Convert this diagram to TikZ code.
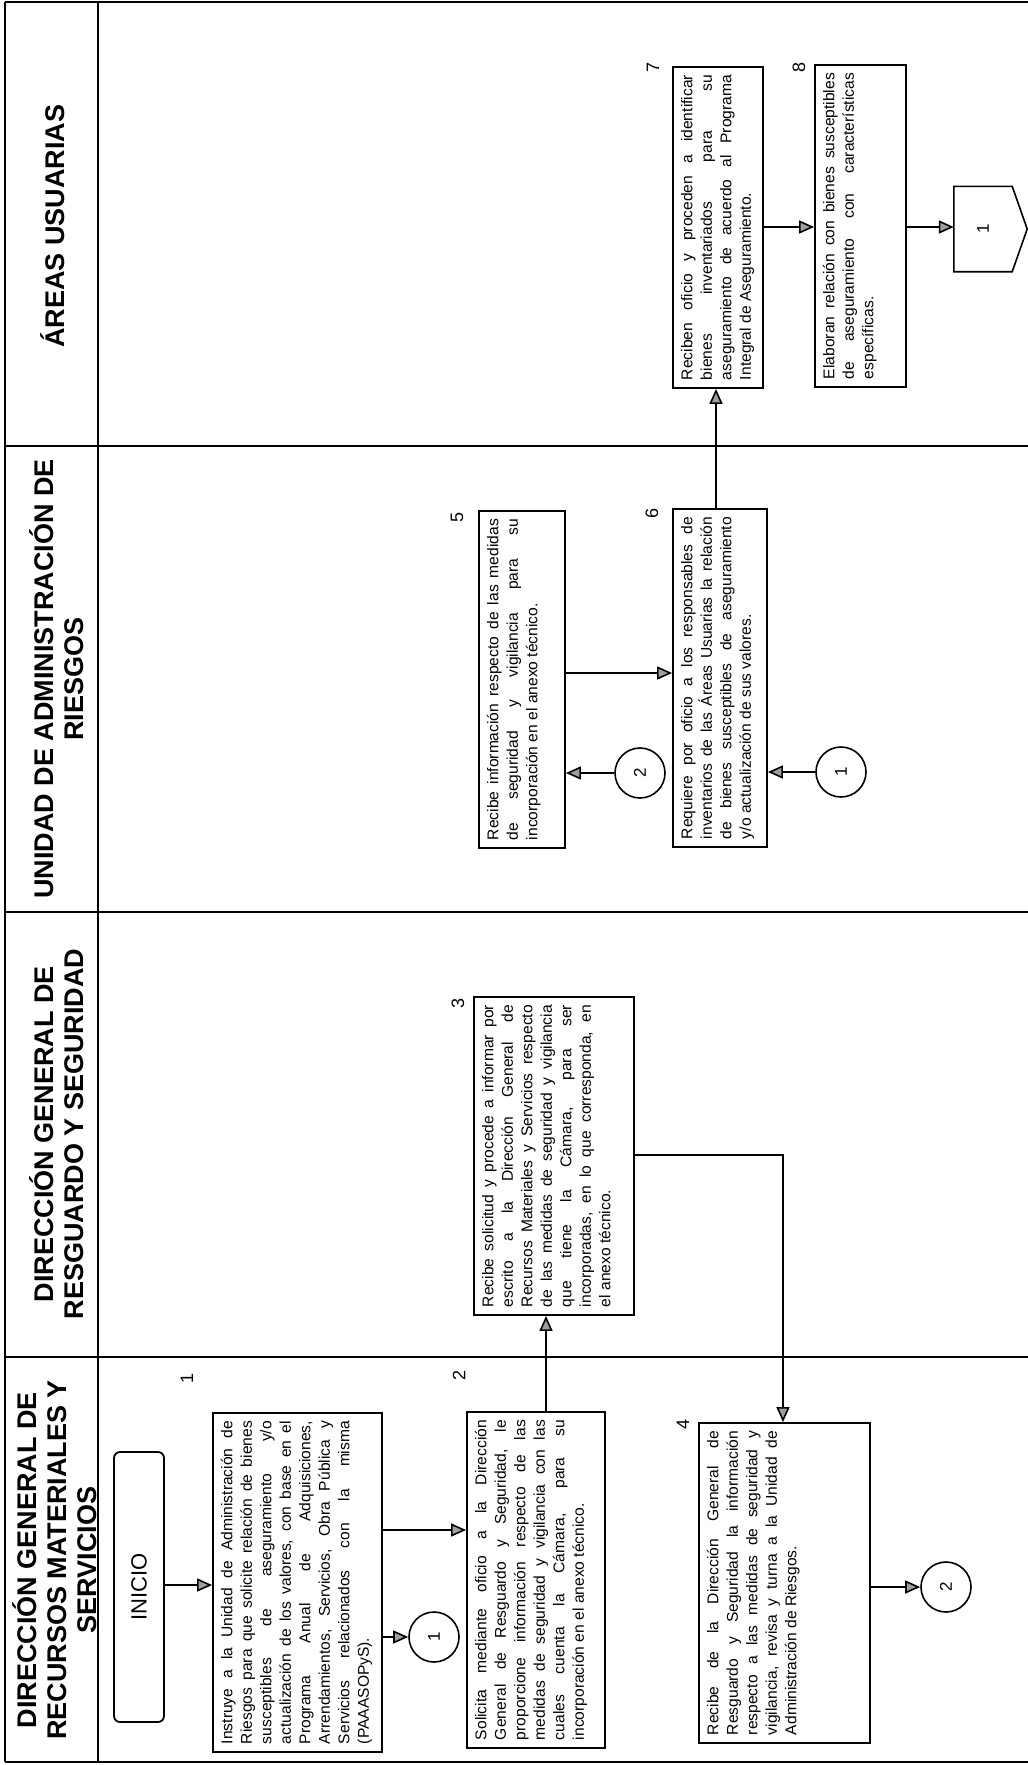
\documentclass[tikz,border=0pt]{standalone}
\usepackage{fontspec}
\setmainfont{Liberation Sans}
\usetikzlibrary{arrows.meta,calc}
\newcommand\jl[1]{\makebox[\linewidth][s]{#1}\par}
\newcommand\btx[3]{\parbox[c][#1pt][t]{#2pt}{#3}}
\tikzset{
  lane/.style={line width=2pt},
  stepbox/.style={draw, line width=1.8pt, rotate=90, inner sep=0pt, font=\fontsize{15.6}{19.5}\selectfont},
  ttl/.style={rotate=90, align=center, inner sep=0pt, font=\bfseries\fontsize{27}{30}\selectfont},
  num/.style={rotate=90, inner sep=1pt, font=\fontsize{18}{20}\selectfont},
  conn/.style={draw, circle, line width=1.6pt, minimum size=50pt, inner sep=0pt, font=\fontsize{17}{18}\selectfont},
  arr/.style={line width=1.6pt, -{Triangle[length=15pt,width=13pt,fill=gray!75]}},
  startbox/.style={draw, rounded corners=6pt, line width=1.8pt, rotate=90, minimum width=270pt, minimum height=50pt, inner sep=0pt, font=\fontsize{22}{24}\selectfont},
}
\begin{document}
\begin{tikzpicture}[x=1pt,y=-1pt]
\fill[white] (0,0) rectangle (1028,1765);
\useasboundingbox (0,0) rectangle (1028,1765);
% frame and lanes
\draw[lane] (5,2) -- (1028,2);
\draw[lane] (5,1762) -- (1028,1762);
\draw[lane] (5,2) -- (5,1762);
\draw[lane] (98,2) -- (98,1762);
\draw[lane] (5,446) -- (1028,446);
\draw[lane] (5,912) -- (1028,912);
\draw[lane] (5,1357) -- (1028,1357);
% titles
\node[ttl] (h4) at (53,226) {ÁREAS USUARIAS};
\node[ttl] (h3) at (57,679) {UNIDAD DE ADMINISTRACIÓN DE\\RIESGOS};
\node[ttl] (h2) at (57,1134) {DIRECCIÓN GENERAL DE\\RESGUARDO Y SEGURIDAD};
\node[ttl] (h1) at (55,1560) {DIRECCIÓN GENERAL DE\\RECURSOS MATERIALES Y\\SERVICIOS};
% start
\node[startbox] (ini) at (139,1587) {INICIO};
% boxes
\node[stepbox, minimum width=339pt, minimum height=169pt] (b1) at (297.5,1582.5) {\btx{153}{323}{%
\jl{Instruye a la Unidad de Administración de}
\jl{Riesgos para que solicite relación de bienes}
\jl{susceptibles de aseguramiento y/o}
\jl{actualización de los valores, con base en el}
\jl{Programa Anual de Adquisiciones,}
\jl{Arrendamientos, Servicios, Obra Pública y}
\jl{Servicios relacionados con la misma}
(PAAASOPyS).}};
\node[stepbox, minimum width=336pt, minimum height=138pt] (b2) at (536,1580) {\btx{122}{320}{%
\jl{Solicita mediante oficio a la Dirección}
\jl{General de Resguardo y Seguridad, le}
\jl{proporcione información respecto de las}
\jl{medidas de seguridad y vigilancia con las}
\jl{cuales cuenta la Cámara, para su}
incorporación en el anexo técnico.}};
\node[stepbox, minimum width=318pt, minimum height=160pt] (b3) at (554,1156) {\btx{144}{302}{%
\jl{Recibe solicitud y procede a informar por}
\jl{escrito a la Dirección General de}
\jl{Recursos Materiales y Servicios respecto}
\jl{de las medidas de seguridad y vigilancia}
\jl{que tiene la Cámara, para ser}
\jl{incorporadas, en lo que corresponda, en}
el anexo técnico.}};
\node[stepbox, minimum width=320pt, minimum height=171pt] (b4) at (784.5,1583) {\btx{155}{304}{%
\jl{Recibe de la Dirección General de}
\jl{Resguardo y Seguridad la información}
\jl{respecto a las medidas de seguridad y}
\jl{vigilancia, revisa y turna a la Unidad de}
Administración de Riesgos.}};
\node[stepbox, minimum width=337pt, minimum height=86pt] (b5) at (522,679.5) {\btx{70}{321}{%
\jl{Recibe información respecto de las medidas}
\jl{de seguridad y vigilancia para su}
incorporación en el anexo técnico.}};
\node[stepbox, minimum width=338pt, minimum height=94pt] (b6) at (720,678) {\btx{78}{322}{%
\jl{Requiere por oficio a los responsables de}
\jl{inventarios de las Áreas Usuarias la relación}
\jl{de bienes susceptibles de aseguramiento}
y/o actualización de sus valores.}};
\node[stepbox, minimum width=321pt, minimum height=90pt] (b7) at (718,227.5) {\btx{74}{305}{%
\jl{Reciben oficio y proceden a identificar}
\jl{bienes inventariados para su}
\jl{aseguramiento de acuerdo al Programa}
Integral de Aseguramiento.}};
\node[stepbox, minimum width=322pt, minimum height=91pt] (b8) at (860.5,226) {\btx{75}{306}{%
\jl{Elaboran relación con bienes susceptibles}
\jl{de aseguramiento con características}
específicas.}};
% step numbers
\node[num] (l1) at (187,1378) {1};
\node[num] (l2) at (459,1375) {2};
\node[num] (l3) at (458,1003) {3};
\node[num] (l4) at (683,1424) {4};
\node[num] (l5) at (457,517) {5};
\node[num] (l6) at (652,513) {6};
\node[num] (l7) at (653,67) {7};
\node[num] (l8) at (799,67) {8};
% on-page connectors
\node[conn] (c1a) at (434,1637) {\rotatebox{90}{1}};
\node[conn] (c2a) at (946,1587) {\rotatebox{90}{2}};
\node[conn] (c2b) at (640,773) {\rotatebox{90}{2}};
\node[conn] (c1b) at (841,772) {\rotatebox{90}{1}};
% off-page connector
\node[inner sep=0pt, minimum width=58pt, minimum height=85pt, font=\fontsize{17}{18}\selectfont] (p1) at (983,229) {\rotatebox{90}{1}};
\draw[line width=1.6pt] (p1.north west) -- (p1.north east) -- ($(p1.east)+(15,0)$) -- (p1.south east) -- (p1.south west) -- cycle;
% connectors
\draw[arr] (ini.south |- 0,1585) -- (b1.north |- 0,1585);
\draw[arr] (b1.south |- 0,1530) -- (b2.north |- 0,1530);
\draw[arr] (b1.south |- c1a) -- (c1a);
\draw[arr] (546,0 |- b2.east) -- (546,0 |- b3.west);
\draw[arr] (b3.south |- 0,1155) -| (783,0 |- b4.east);
\draw[arr] (b4.south |- c2a) -- (c2a);
\draw[arr] (c2b) -- (b5.south |- c2b);
\draw[arr] (c1b) -- (b6.south |- c1b);
\draw[arr] (b5.south |- 0,673) -- (b6.north |- 0,673);
\draw[arr] (716,0 |- b6.east) -- (716,0 |- b7.west);
\draw[arr] (b7.south |- 0,227) -- (b8.north |- 0,227);
\draw[arr] (b8.south |- 0,227) -- (p1.west |- 0,227);
\end{tikzpicture}
\end{document}
